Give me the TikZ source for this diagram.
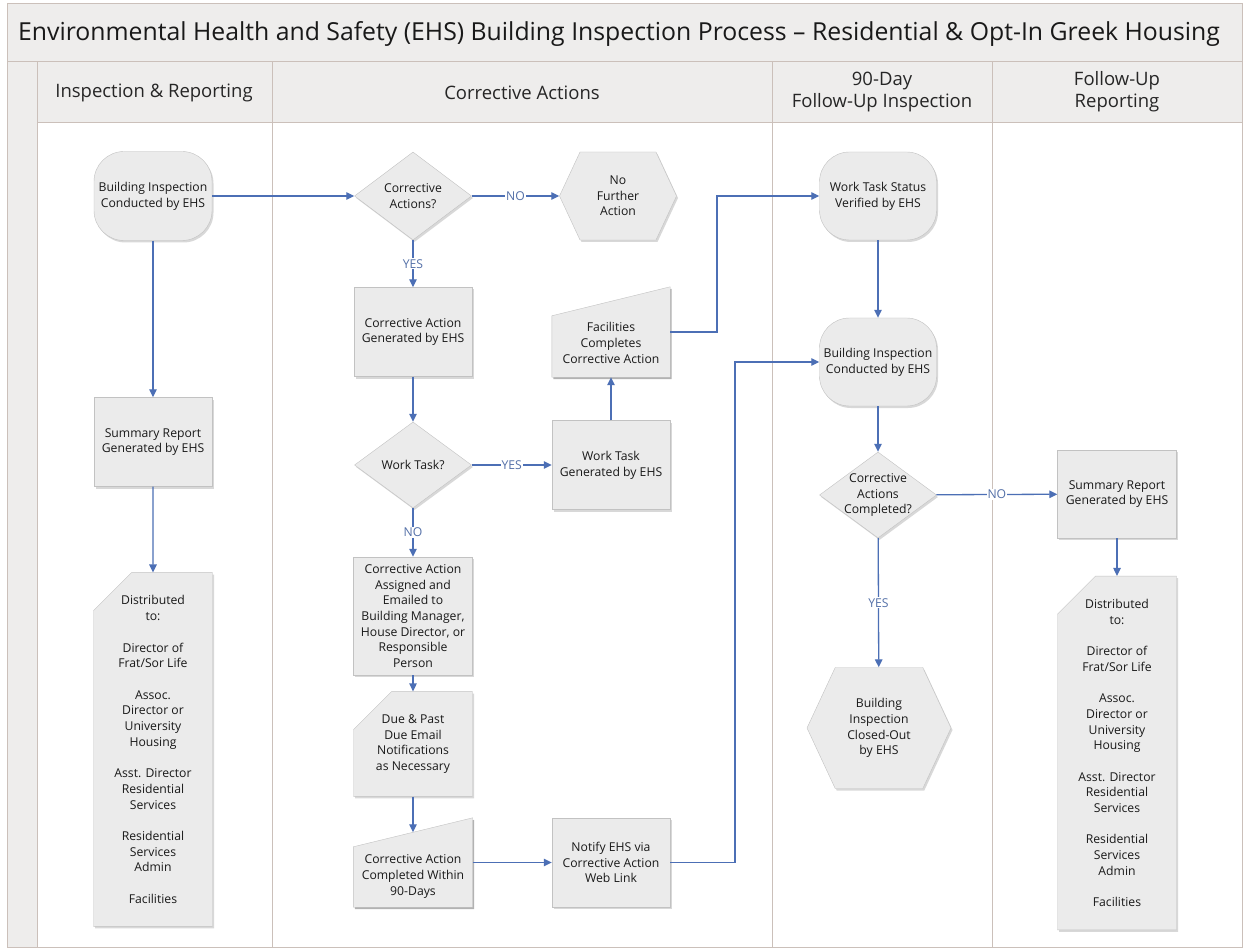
\documentclass[tikz,border=0pt]{standalone}
\usepackage{fontspec}
\setmainfont{Open Sans}
\usetikzlibrary{arrows.meta, shapes.geometric, shapes.misc, shapes.symbols, shadows}
\definecolor{lane}{HTML}{CBC0BA}
\definecolor{band}{HTML}{EEEDEC}
\definecolor{shapefill}{HTML}{EBEBEB}
\definecolor{shapeline}{HTML}{C2C2C2}
\definecolor{flow}{HTML}{4C6FB5}
\definecolor{flowtext}{HTML}{5470A8}
\newcommand{\distrib}{Distributed\\to:\\[15.7pt]Director of\\Frat/Sor Life\\[15.7pt]Assoc.\\Director or\\University\\Housing\\[15.7pt]Asst. Director\\Residential\\Services\\[15.7pt]Residential\\Services\\Admin\\[15.7pt]Facilities}
\tikzset{
    inside/.style={
        align=center,
        font=\fontsize{12.2}{15.7}\selectfont,
        text=black!90
    },
    base/.style={
        inside,
        draw=shapeline, fill=shapefill, thin,
        drop shadow={shadow xshift=1.5pt, shadow yshift=-2pt, opacity=.3}
    },
    process/.style={
        base, rectangle,
        minimum width=118pt, minimum height=89pt,
        inner sep=1pt
    },
    term/.style={process, rounded corners=30pt},
    decision/.style={
        base, diamond,
        minimum width=117pt, minimum height=88pt,
        inner sep=0pt
    },
    hexa/.style={
        base, signal, signal to=east and west, signal from=nowhere,
        signal pointer angle=130,
        inner sep=0pt
    },
    card/.style={
        base, chamfered rectangle,
        chamfered rectangle corners=north west,
        chamfered rectangle xsep=16pt, chamfered rectangle ysep=22pt,
        minimum width=119pt, inner sep=1pt
    },
    manin/.style={
        rectangle, minimum width=118pt, minimum height=89pt, inner sep=0pt,
        append after command={\pgfextra{
            \fill[black, opacity=.3] ([shift={(1.5pt,-2pt)}]\tikzlastnode.south west) -- ([shift={(1.5pt,-2pt)}]\tikzlastnode.south east)
                -- ([shift={(1.5pt,-2pt)}]\tikzlastnode.north east) -- ([shift={(1.5pt,-31pt)}]\tikzlastnode.north west) -- cycle;
            \draw[draw=shapeline, fill=shapefill, thin] (\tikzlastnode.south west) -- (\tikzlastnode.south east)
                -- (\tikzlastnode.north east) -- ([yshift=-29pt]\tikzlastnode.north west) -- cycle;}}
    },
    conn/.style={
        draw=flow, line width=1.3pt,
        -{Triangle[length=8pt, width=7.5pt]}
    },
    answer/.style={
        fill=white, text=flowtext, inner sep=1pt,
        font=\fontsize{12.2}{14}\selectfont
    },
    lanehead/.style={
        align=center, text=black!85,
        font=\fontsize{18.5}{22}\selectfont
    },
    lanerule/.style={draw=lane, line width=1pt},
}

\begin{document}
\begin{tikzpicture}[x=1pt, y=-1pt]
    \useasboundingbox (0,0) rectangle (1244,949);

    % swimlanes
    \fill[white] (7,4) rectangle (1242,947);
    \fill[band] (7,4) rectangle (1242,123);
    \fill[band] (7,62) rectangle (37,947);
    \draw[lanerule] (7,4) rectangle (1242,947);
    \draw[lanerule] (7,62) -- (1242,62);
    \draw[lanerule] (37,123) -- (1242,123);
    \foreach \x in {37, 272, 772, 992}
        \draw[lanerule] (\x,62) -- (\x,947);

    \node[text=black!90, font=\fontsize{24.8}{28}\selectfont] (title) at (619,34)
        {Environmental Health and Safety (EHS) Building Inspection Process -- Residential \& Opt-In Greek Housing};
    \node[lanehead] (hdinsp) at (154,93) {Inspection \& Reporting};
    \node[lanehead] (hdcorr) at (522,93) {Corrective Actions};
    \node[lanehead] (hdninety) at (882,92) {90-Day\\Follow-Up Inspection};
    \node[lanehead] (hdrep) at (1117,92) {Follow-Up\\Reporting};

    % inspection & reporting
    \node[term] (bi1) at (153,196) {Building Inspection\\Conducted by EHS};
    \node[process] (sr1) at (153,442) {Summary Report\\Generated by EHS};
    \node[card, minimum height=335pt] (dist1) at (153,749.5) {\distrib};

    % corrective actions
    \node[decision, label={[inside]center:{Corrective\\Actions?}}] (cadec) at (413,196) {};
    \node[hexa, minimum width=117pt, minimum height=88pt] (nfa) at (618,196) {No\\Further\\Action};
    \node[process] (cagen) at (413,332) {Corrective Action\\Generated by EHS};
    \node[manin, minimum height=90pt, label={[inside, yshift=-11pt]center:{Facilities\\Completes\\Corrective Action}}] (fac) at (611,332) {};
    \node[decision, minimum height=86pt, label={[inside]center:{Work Task?}}] (wtdec) at (413,465) {};
    \node[process] (wtgen) at (611,465) {Work Task\\Generated by EHS};
    \node[process, minimum width=119pt, minimum height=118pt] (cassign) at (413,616)
        {Corrective Action\\Assigned and\\Emailed to\\Building Manager,\\House Director, or\\Responsible\\Person};
    \node[card, minimum height=88pt] (due) at (413,744) {Due \& Past\\Due Email\\Notifications\\as Necessary};
    \node[manin, minimum width=119pt, label={[inside, yshift=-14pt]center:{Corrective Action\\Completed Within\\90-Days}}] (cacomp) at (413,862.5) {};
    \node[process] (notify) at (611,862.5) {Notify EHS via\\Corrective Action\\Web Link};

    % 90-day follow-up inspection
    \node[term, minimum width=117pt, minimum height=88pt] (wts) at (878,196) {Work Task Status\\Verified by EHS};
    \node[term, minimum width=117pt, minimum height=88pt] (bi2) at (878,362) {Building Inspection\\Conducted by EHS};
    \node[decision, minimum height=86pt, label={[inside]center:{Corrective\\Actions\\Completed?}}] (cacdec) at (878,495) {};
    \node[hexa, minimum width=144pt, minimum height=121pt] (closed) at (879,728) {Building\\Inspection\\Closed-Out\\by EHS};

    % follow-up reporting
    \node[process, minimum width=119pt, minimum height=88pt] (sr2) at (1117,494) {Summary Report\\Generated by EHS};
    \node[card, minimum height=334pt] (dist2) at (1117,753) {\distrib};

    % connectors
    \coordinate (jogfac) at (717,0);
    \coordinate (jognotify) at (735,0);

    \foreach \i/\j in {bi1/sr1, sr1/dist1, bi1/cadec, cagen/wtdec, wtgen/fac,
                       cassign/due, cacomp/notify, wts/bi2, bi2/cacdec, sr2/dist2}
        \draw[conn] (\i)--(\j);

    \draw[conn] (due.south) -- ([yshift=-14.5pt]cacomp.north);
    \draw[conn] (fac.east) -| (jogfac |- wts.west) -- (wts.west);
    \draw[conn] (notify.east) -| (jognotify |- bi2.west) -- (bi2.west);

    \draw[conn] (cadec) -- node[answer] (ansa) {NO} (nfa);
    \draw[conn] (cadec) -- node[answer] (ansb) {YES} (cagen);
    \draw[conn] (wtdec) -- node[answer] (ansc) {YES} (wtgen);
    \draw[conn] (wtdec) -- node[answer] (ansd) {NO} (cassign);
    \draw[conn] (cacdec) -- node[answer] (anse) {NO} (sr2);
    \draw[conn] (cacdec) -- node[answer] (ansf) {YES} (closed);
\end{tikzpicture}
\end{document}
